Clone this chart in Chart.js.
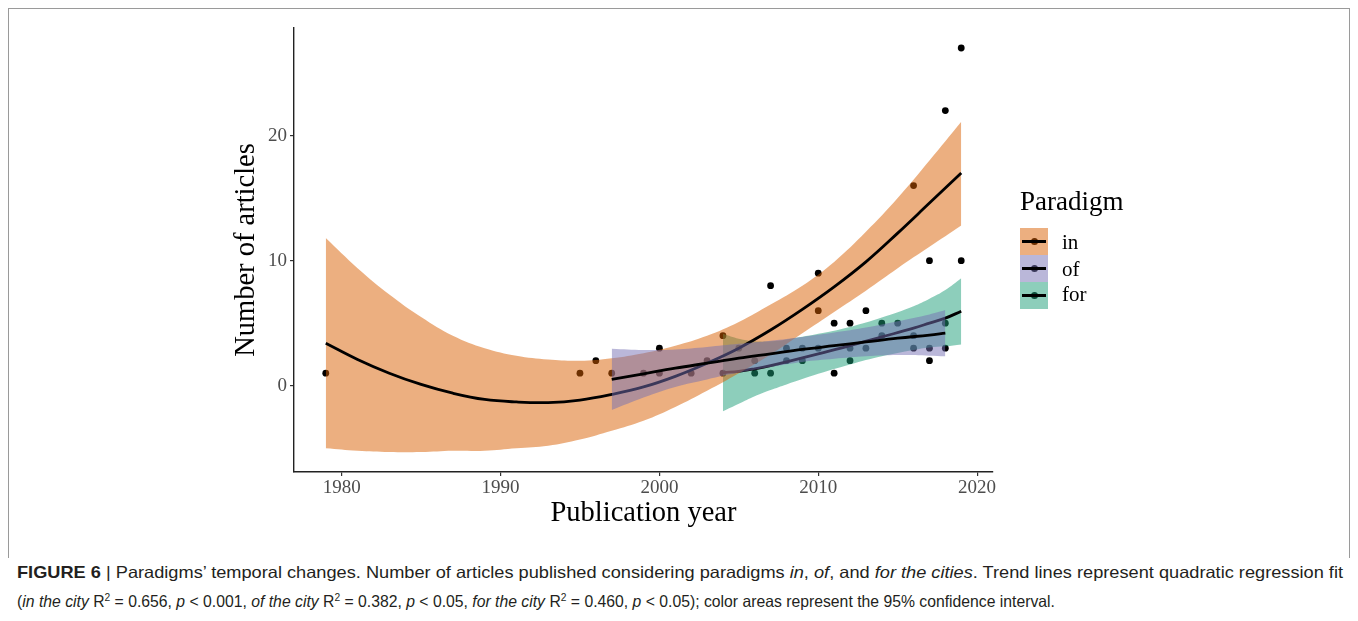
<!DOCTYPE html>
<html>
<head>
<meta charset="utf-8">
<script src="https://cdn.jsdelivr.net/npm/chart.js@4.4.1/dist/chart.umd.min.js"></script>
<style>
  html, body { margin: 0; padding: 0; background: #fff; }
  body { width: 1358px; height: 621px; position: relative; overflow: hidden; }
  #frame { position: absolute; left: 8px; top: 8px; width: 1340px; height: 549px;
           border: 1px solid #9a9a9a; border-bottom: none; }
  #chart { position: absolute; left: 0; top: 0; }
  .serif { font-family: "Liberation Serif", "Times New Roman", serif; position: absolute; white-space: nowrap; }
  #legTitle { left: 1020px; top: 188px; font-size: 27px; line-height: 27px; color: #000; }
  .key { position: absolute; left: 1020px; width: 28px; height: 27px; }
  .key .ln { position: absolute; left: 2px; top: 12px; width: 24px; height: 3px; background: #000; }
  .key .dot { position: absolute; left: 10.5px; top: 10px; width: 7px; height: 7px; border-radius: 50%; }
  .lab { left: 1062px; font-size: 21px; line-height: 21px; color: #000; }
  #caption { position: absolute; left: 17px; top: 562px; font-family: "Liberation Sans Narrow", "Liberation Sans", Arial, sans-serif;
             font-size: 16.5px; color: #231f20; }
  .cl { position: absolute; left: 0; white-space: nowrap; line-height: 20px; }
  .cl span { display: inline-block; transform-origin: left center; }
  sup { font-size: 0.65em; line-height: 0; vertical-align: 0.55em; }
</style>
</head>
<body>
<div id="frame"></div>
<canvas id="chart" width="1358" height="540" style="width:1358px;height:540px"></canvas>

<div id="legTitle" class="serif">Paradigm</div>
<div id="keys"></div>

<div id="caption">
  <div class="cl" id="cap1" style="top:0px"><span><b>FIGURE 6</b> | Paradigms’ temporal changes. Number of articles published considering paradigms <i>in</i>, <i>of</i>, and <i>for the cities</i>. Trend lines represent quadratic regression fit</span></div>
  <div class="cl" id="cap2" style="top:29px"><span>(<i>in the city</i> R<sup>2</sup> = 0.656, <i>p</i> &lt; 0.001, <i>of the city</i> R<sup>2</sup> = 0.382, <i>p</i> &lt; 0.05, <i>for the city</i> R<sup>2</sup> = 0.460, <i>p</i> &lt; 0.05); color areas represent the 95% confidence interval.</span></div>
</div>

<script>
// observed articles per year (black points)
const articleYears  = [1979, 1995, 1996, 1997, 1999, 2000, 2000, 2002, 2003, 2004, 2004, 2005, 2006, 2006,
                       2007, 2007, 2008, 2008, 2009, 2009, 2010, 2010, 2010, 2011, 2011, 2012, 2012, 2012,
                       2013, 2013, 2014, 2014, 2015, 2016, 2016, 2016, 2017, 2017, 2017, 2018, 2018, 2018,
                       2019, 2019];
const articleCounts = [1, 1, 2, 1, 1, 1, 3, 1, 2, 1, 4, 3, 1, 2,
                       1, 8, 2, 3, 2, 3, 3, 6, 9, 1, 5, 2, 3, 5,
                       3, 6, 4, 5, 5, 3, 4, 16, 2, 3, 10, 3, 5, 22,
                       10, 27];

// fitted trend + 95% band
const paradigms = ['in', 'of', 'for'];
const inYears  = [1979, 1981, 1983, 1985, 1987, 1989, 1991, 1993, 1995, 1997, 1999, 2001, 2003, 2005, 2007, 2009, 2011, 2013, 2015, 2017, 2019];
const inFit    = [3.4, 2.1, 1.0, 0.1, -0.6, -1.1, -1.3, -1.35, -1.15, -0.7, -0.1, 0.75, 1.8, 3.0, 4.45, 6.1, 7.9, 9.9, 12.2, 14.6, 17.0];
const inUpper  = [11.8, 9.4, 7.3, 5.5, 4.0, 3.0, 2.4, 2.1, 2.0, 2.2, 2.6, 3.2, 4.0, 5.1, 6.5, 8.0, 9.9, 12.3, 15.0, 18.0, 21.1];
const inLower  = [-5.0, -5.2, -5.3, -5.3, -5.2, -5.2, -5.0, -4.8, -4.3, -3.6, -2.8, -1.7, -0.4, 1.0, 2.5, 4.2, 5.9, 7.6, 9.4, 11.1, 12.8];

const ofYears  = [1997, 1999, 2001, 2003, 2005, 2007, 2009, 2011, 2013, 2015, 2017, 2018];
const ofFit    = [0.5, 0.95, 1.4, 1.8, 2.2, 2.55, 2.9, 3.2, 3.5, 3.8, 4.05, 4.2];
const ofUpper  = [2.95, 2.85, 2.9, 3.1, 3.35, 3.6, 3.9, 4.25, 4.65, 5.15, 5.7, 6.05];
const ofLower  = [-1.95, -0.95, -0.1, 0.5, 1.05, 1.5, 1.9, 2.15, 2.35, 2.45, 2.4, 2.35];

const forYears = [2004, 2005, 2006, 2007, 2008, 2010, 2012, 2014, 2016, 2017, 2018, 2019];
const forFit   = [1.05, 1.15, 1.35, 1.6, 1.9, 2.55, 3.2, 3.9, 4.6, 5.0, 5.4, 5.95];
const forUpper = [4.15, 3.75, 3.55, 3.55, 3.7, 4.15, 4.7, 5.45, 6.35, 6.95, 7.65, 8.6];
const forLower = [-2.05, -1.45, -0.85, -0.35, 0.1, 0.95, 1.7, 2.35, 2.85, 3.05, 3.15, 3.3];

const xTicks = [1980, 1990, 2000, 2010, 2020];
const yTicks = [0, 10, 20];

const bandColors = { in: 'rgba(217,95,2,0.5)', of: 'rgba(117,112,179,0.5)', for: 'rgba(27,158,119,0.5)' };
const dotColors  = { in: 'rgb(108,47,1)', of: 'rgb(58,56,89)', for: 'rgb(13,79,59)' };
const serif = '"Liberation Serif", "Times New Roman", serif';

const zip = (xs, ys) => xs.map((x, i) => ({ x: x, y: ys[i] }));

// band + line for one group; ggplot draws groups alphabetically (for, in, of)
const groupSets = (years, fit, upper, lower, color, order) => [
  { data: zip(years, upper), fill: '+1', backgroundColor: color, borderColor: 'transparent', borderWidth: 0,
    pointRadius: 0, tension: 0.4, order: order },
  { data: zip(years, lower), fill: false, borderColor: 'transparent', borderWidth: 0,
    pointRadius: 0, tension: 0.4, order: order },
  { data: zip(years, fit), fill: false, borderColor: '#000', borderWidth: 2.8,
    pointRadius: 0, tension: 0.4, order: order - 1 }
];

const datasets = [
  { data: zip(articleYears, articleCounts), showLine: false, fill: false, pointRadius: 3.4,
    pointBackgroundColor: '#000', pointBorderWidth: 0, order: 20 },
  ...groupSets(forYears, forFit, forUpper, forLower, bandColors.for, 15),
  ...groupSets(inYears, inFit, inUpper, inLower, bandColors.in, 12),
  ...groupSets(ofYears, ofFit, ofUpper, ofLower, bandColors.of, 9)
];

new Chart(document.getElementById('chart').getContext('2d'), {
  type: 'line',
  data: { datasets: datasets },
  options: {
    responsive: false,
    animation: false,
    layout: { padding: { left: 229, right: 365, top: 28, bottom: 9.5 } },
    plugins: { legend: { display: false }, tooltip: { enabled: false } },
    scales: {
      x: {
        type: 'linear', min: 1977, max: 2021,
        afterFit: s => { s.height = 58.5; },
        afterBuildTicks: s => { s.ticks = xTicks.map(v => ({ value: v })); },
        grid: { drawOnChartArea: false, drawTicks: true, tickLength: 4, color: '#333', lineWidth: 1.2 },
        border: { color: '#222', width: 1.4 },
        ticks: { font: { family: serif, size: 19 }, color: '#4d4d4d', padding: 1, maxRotation: 0, autoSkip: false,
                 callback: v => String(v) },
        title: { display: true, text: 'Publication year', font: { family: serif, size: 28.5 }, color: '#000', padding: 0 }
      },
      y: {
        type: 'linear', min: -6.9, max: 28.6,
        afterFit: s => { s.width = 65; },
        afterBuildTicks: s => { s.ticks = yTicks.map(v => ({ value: v })); },
        grid: { drawOnChartArea: false, drawTicks: true, tickLength: 4, color: '#333', lineWidth: 1.2 },
        border: { color: '#222', width: 1.4 },
        ticks: { font: { family: serif, size: 19 }, color: '#4d4d4d', padding: 3, callback: v => String(v) },
        title: { display: true, text: 'Number of articles', font: { family: serif, size: 28.5 }, color: '#000', padding: 0 }
      }
    }
  }
});

// legend keys
const keyTops = [228, 255, 282];
const labTops = [232, 259, 284];
const keys = document.getElementById('keys');
paradigms.forEach((p, i) => {
  const k = document.createElement('div');
  k.className = 'key';
  k.style.top = keyTops[i] + 'px';
  k.style.background = bandColors[p];
  k.innerHTML = '<div class="dot" style="background:' + dotColors[p] + '"></div><div class="ln"></div>';
  keys.appendChild(k);
  const l = document.createElement('div');
  l.className = 'serif lab';
  l.style.top = labTops[i] + 'px';
  l.textContent = p;
  keys.appendChild(l);
});

// caption: squeeze each line to the width it has in the figure
const capWidths = { cap1: 1326, cap2: 1038 };
Object.keys(capWidths).forEach(id => {
  const span = document.querySelector('#' + id + ' span');
  const w = span.getBoundingClientRect().width;
  span.style.transform = 'scaleX(' + (capWidths[id] / w) + ')';
});
</script>
</body>
</html>
